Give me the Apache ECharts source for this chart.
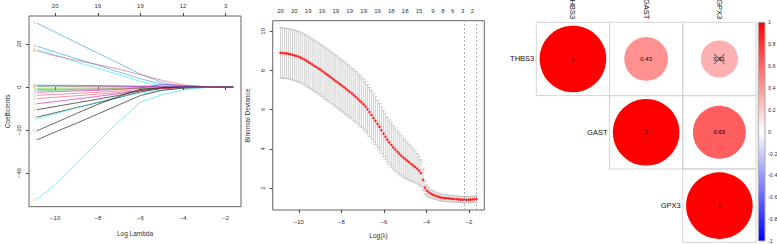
<!DOCTYPE html>
<html lang="en">
<head>
<meta charset="utf-8"/>
<title>LASSO</title>
<script src="https://cdn.jsdelivr.net/npm/echarts@6/dist/echarts.min.js"></script>
<style>
    html, body { margin: 0; padding: 0; background: #fff; }
    #main { width: 777px; height: 244px; }
</style>
</head>
<body>
<div id="main"></div>
<script>
    // ---- panel 1: coefficient paths ----
    var pathLambda = [-10.86, -10, -9, -8, -7, -6, -5, -4, -3, -2, -1.65];
    var v1 = [-13.9, -11.9, -9.5, -7.2, -4.8, -2.2, -0.6, -0.1, 0, 0, 0];
    var v2 = [-1.2, -1.1, -1.0, -0.8, -0.6, -0.4, -0.2, 0, 0, 0, 0];
    var v3 = [-0.6, -0.55, -0.5, -0.45, -0.4, -0.3, -0.1, 0.2, 0.1, 0, 0];
    var v4 = [0.9, 0.85, 0.8, 0.7, 0.6, 0.5, 0.4, 0.3, 0.2, 0.1, 0.05];
    var v5 = [-14.8, -12.4, -9.6, -7.0, -4.6, -2.8, -1.4, -0.4, -0.1, 0, 0];
    var v6 = [-7.7, -6.7, -5.5, -4.3, -3.0, -1.6, -0.6, -0.1, 0, 0, 0];
    var v7 = [-24.5, -20.8, -16.8, -12.5, -8.2, -3.9, -1.5, -0.5, -0.1, 0, 0];
    var v8 = [-3.8, -3.4, -2.9, -2.4, -1.8, -1.2, -0.6, -0.2, 0, 0, 0];
    var v9 = [-1.7, -1.5, -1.3, -1.1, -0.9, -0.6, -0.3, -0.1, 0, 0, 0];
    var v10 = [29.7, 25.5, 20.6, 15.8, 11.0, 6.0, 2.2, 0.1, 0, 0, 0];
    var v11 = [17.5, 15.0, 11.7, 8.7, 5.8, 2.6, 0.5, 0, 0, 0, 0];
    var v12 = [-2.4, -2.1, -1.8, -1.5, -1.1, -0.3, 1.2, 0.8, 0.2, 0, 0];
    var v13 = [-20.3, -16.6, -12.2, -8.0, -4.3, -1.0, -0.3, -0.1, 0, 0, 0];
    var v14 = [16.8, 14.5, 12.4, 10.5, 8.3, 5.8, 3.2, 1.0, 0.3, 0, 0];
    var v15 = [0.2, 0.2, 0.2, 0.15, 0.1, 0.1, 0.2, 0.3, 0.2, 0.1, 0];
    var v16 = [19.0, 16.3, 13.2, 10.2, 7.0, 3.9, 1.3, 0.3, 0.1, 0, 0];
    var v17 = [-52.2, -45.2, -35.3, -25.5, -15.9, -7.0, -3.6, -1.3, -0.2, 0, 0];
    var v18 = [0.6, 0.6, 0.5, 0.5, 0.4, 0.3, 0.2, 0.3, 0.2, 0.05, 0];
    var v19 = [-10.5, -9.0, -7.3, -5.6, -3.8, -1.7, -0.4, 0, 0, 0, 0];
    var v20 = [-5.3, -4.7, -4.0, -3.3, -2.5, -1.6, -0.7, -0.2, 0, 0, 0];
    var pathVars = [v1, v2, v3, v4, v5, v6, v7, v8, v9, v10, v11, v12, v13, v14, v15, v16, v17, v18, v19, v20];
    var rPalette = ['#000000', '#DF536B', '#61D04F', '#2297E6', '#28E2E5', '#CD0BBC'];
    var pathTicks = [-10, -8, -6, -4, -2];
    var pathTopLabels = ['20', '19', '19', '12', '3'];

    // ---- panel 2: cross validation ----
    var logLambda = [
        -10.86, -10.77, -10.67, -10.58, -10.49, -10.40, -10.30, -10.21, -10.12, -10.02,
        -9.93, -9.84, -9.74, -9.65, -9.56, -9.47, -9.37, -9.28, -9.19, -9.09,
        -9.00, -8.91, -8.81, -8.72, -8.63, -8.54, -8.44, -8.35, -8.26, -8.16,
        -8.07, -7.98, -7.88, -7.79, -7.70, -7.61, -7.51, -7.42, -7.33, -7.23,
        -7.14, -7.05, -6.95, -6.86, -6.77, -6.68, -6.58, -6.49, -6.40, -6.30,
        -6.21, -6.12, -6.02, -5.93, -5.84, -5.75, -5.65, -5.56, -5.47, -5.37,
        -5.28, -5.19, -5.09, -5.00, -4.91, -4.82, -4.72, -4.63, -4.54, -4.44,
        -4.35, -4.26, -4.16, -4.07, -3.98, -3.89, -3.79, -3.70, -3.61, -3.51,
        -3.42, -3.33, -3.23, -3.14, -3.05, -2.96, -2.86, -2.77, -2.68, -2.58,
        -2.49, -2.40, -2.30, -2.21, -2.12, -2.02, -1.93, -1.84, -1.74, -1.65];
    var cvMean = [
        8.90, 8.89, 8.88, 8.87, 8.85, 8.83, 8.80, 8.77, 8.74, 8.71,
        8.67, 8.62, 8.56, 8.50, 8.44, 8.37, 8.31, 8.24, 8.18, 8.11,
        8.05, 7.98, 7.90, 7.83, 7.76, 7.68, 7.61, 7.53, 7.45, 7.38,
        7.30, 7.23, 7.15, 7.07, 6.99, 6.91, 6.83, 6.74, 6.65, 6.56,
        6.46, 6.37, 6.27, 6.15, 6.02, 5.88, 5.73, 5.58, 5.43, 5.27,
        5.12, 4.95, 4.78, 4.62, 4.47, 4.33, 4.20, 4.08, 3.97, 3.86,
        3.76, 3.66, 3.56, 3.48, 3.40, 3.32, 3.24, 3.16, 3.08, 2.99,
        2.89, 2.76, 2.42, 2.02, 1.87, 1.78, 1.71, 1.66, 1.62, 1.58,
        1.55, 1.52, 1.50, 1.49, 1.48, 1.47, 1.46, 1.45, 1.44, 1.43,
        1.42, 1.41, 1.41, 1.40, 1.40, 1.41, 1.41, 1.42, 1.43, 1.43];
    var cvSd = [
        1.28, 1.28, 1.28, 1.28, 1.28, 1.28, 1.28, 1.29, 1.29, 1.29,
        1.29, 1.29, 1.30, 1.30, 1.30, 1.30, 1.30, 1.30, 1.30, 1.30,
        1.30, 1.30, 1.31, 1.31, 1.31, 1.31, 1.31, 1.31, 1.31, 1.31,
        1.31, 1.31, 1.31, 1.31, 1.31, 1.31, 1.30, 1.30, 1.30, 1.29,
        1.29, 1.28, 1.28, 1.27, 1.26, 1.25, 1.24, 1.23, 1.22, 1.21,
        1.20, 1.19, 1.18, 1.17, 1.16, 1.15, 1.14, 1.12, 1.10, 1.08,
        1.06, 1.04, 1.01, 0.98, 0.95, 0.92, 0.89, 0.85, 0.81, 0.77,
        0.73, 0.68, 0.55, 0.35, 0.28, 0.24, 0.21, 0.20, 0.19, 0.18,
        0.18, 0.17, 0.17, 0.17, 0.17, 0.17, 0.17, 0.16, 0.16, 0.16,
        0.16, 0.16, 0.16, 0.16, 0.16, 0.16, 0.16, 0.16, 0.16, 0.16];
    var cvTopAt = [-10.86, -10.21, -9.56, -8.91, -8.26, -7.61, -6.95, -6.30, -5.65, -5.00, -4.35, -3.70, -3.23, -2.77, -2.30, -1.84];
    var cvTopLabels = ['20', '20', '19', '19', '19', '19', '19', '19', '18', '18', '15', '9', '8', '6', '3', '2'];
    var lambdaMin = -2.21, lambda1se = -1.65;
    var devTicks = [2, 4, 6, 8, 10];

    // ---- panel 3: correlation ----
    var corrVars = ['THBS3', 'GAST', 'GPX3'];
    var corrTHBS3 = [1, 0.43, 0.31];
    var corrGAST = [0.43, 1, 0.63];
    var corrGPX3 = [0.31, 0.63, 1];
    var corrInsig = [[0, 2]];
    var corrColors = ['#0000FF', '#FFFFFF', '#FF0000'];

    var font = 'Liberation Sans, Arial, Helvetica, sans-serif';
    var ink = '#333';

    function minus(v) { return String(v).replace('-', '\u2212'); }
    function nearest(arr, v) {
        var best = 0;
        for (var i = 1; i < arr.length; i++) {
            if (Math.abs(arr[i] - v) < Math.abs(arr[best] - v)) best = i;
        }
        return best;
    }

    var xMin = -11.228, xMax = -1.282;
    var capHalf = (logLambda[logLambda.length - 1] - logLambda[0]) * 0.01;

    var series = [];
    pathVars.forEach(function (v, i) {
        series.push({
            type: 'line',
            xAxisIndex: 0, yAxisIndex: 0,
            data: pathLambda.map(function (x, k) { return [x, v[k]]; }),
            symbol: 'none',
            smooth: false,
            lineStyle: { width: 0.8, color: rPalette[i % 6], opacity: 0.75 },
            silent: true
        });
    });
    series.push({
        type: 'scatter',
        xAxisIndex: 0, yAxisIndex: 0,
        symbolSize: 1,
        itemStyle: { color: 'rgba(0,0,0,0)' },
        data: pathVars.map(function (v, i) { return [pathLambda[0], v[0], String(i + 1)]; }),
        label: {
            show: true, position: 'left', distance: 0.5,
            fontSize: 3, color: '#999', fontFamily: font,
            formatter: function (p) { return p.value[2]; }
        },
        labelLayout: { hideOverlap: false },
        silent: true
    });

    // error bars
    series.push({
        type: 'custom',
        xAxisIndex: 2, yAxisIndex: 1,
        data: logLambda.map(function (x, k) { return [x, cvMean[k] - cvSd[k], cvMean[k] + cvSd[k]]; }),
        encode: { x: 0, y: [1, 2] },
        renderItem: function (params, api) {
            var x = api.value(0), lo = api.value(1), hi = api.value(2);
            var top = api.coord([x, hi]), bot = api.coord([x, lo]);
            var l = api.coord([x - capHalf, hi])[0], r = api.coord([x + capHalf, hi])[0];
            var st = { stroke: '#bdbdbd', lineWidth: 0.7 };
            return {
                type: 'group', children: [
                    { type: 'line', shape: { x1: top[0], y1: top[1], x2: bot[0], y2: bot[1] }, style: st },
                    { type: 'line', shape: { x1: l, y1: top[1], x2: r, y2: top[1] }, style: st },
                    { type: 'line', shape: { x1: l, y1: bot[1], x2: r, y2: bot[1] }, style: st }
                ]
            };
        },
        silent: true
    });
    series.push({
        type: 'scatter',
        xAxisIndex: 2, yAxisIndex: 1,
        data: logLambda.map(function (x, k) { return [x, cvMean[k]]; }),
        symbolSize: 2.6,
        itemStyle: { color: '#FF0000' },
        markLine: {
            silent: true, symbol: 'none',
            label: { show: false },
            lineStyle: { type: [2, 2], color: '#b0b0b0', width: 1 },
            data: [{ xAxis: lambdaMin }, { xAxis: lambda1se }]
        },
        silent: true
    });

    // correlation cells (upper triangle)
    var corrRows = [corrTHBS3, corrGAST, corrGPX3];
    var corrData = [];
    corrRows.forEach(function (row, i) {
        row.forEach(function (r, j) {
            if (j < i) return;
            var ins = corrInsig.some(function (p) { return p[0] === i && p[1] === j; }) ? 1 : 0;
            corrData.push([j, i, r, ins]);
        });
    });
    var corrIndex = series.length;
    series.push({
        type: 'custom',
        xAxisIndex: 4, yAxisIndex: 2,
        data: corrData,
        encode: { x: 0, y: 1 },
        renderItem: function (params, api) {
            var col = api.value(0), row = api.value(1), r = api.value(2), ins = api.value(3);
            var c = api.coord([col, row]);
            var s = api.size([1, 1]);
            var w = s[0], h = s[1];
            var kids = [
                { type: 'rect', shape: { x: c[0] - w / 2, y: c[1] - h / 2, width: w, height: h },
                  style: { fill: 'none', stroke: '#d4d4d4', lineWidth: 1 } },
                { type: 'circle', shape: { cx: c[0], cy: c[1], r: 0.455 * w * Math.sqrt(Math.abs(r)) },
                  style: { fill: api.visual('color') } },
                { type: 'text', style: { text: r === 1 ? '1' : r.toFixed(2), x: c[0], y: c[1],
                  align: 'center', verticalAlign: 'middle', fontSize: 6, fontFamily: font, fill: '#000' } }
            ];
            if (col === row) {
                kids.push({ type: 'text', style: { text: corrVars[row], x: c[0] - w / 2 - 2, y: c[1],
                    align: 'right', verticalAlign: 'middle', fontSize: 7.5, fontFamily: font, fill: '#111' } });
            }
            if (ins) {
                var cs = { stroke: '#222', lineWidth: 0.8 };
                kids.push({ type: 'line', shape: { x1: c[0] - 5.3, y1: c[1] - 5, x2: c[0] + 5.3, y2: c[1] + 5 }, style: cs });
                kids.push({ type: 'line', shape: { x1: c[0] - 5.3, y1: c[1] + 5, x2: c[0] + 5.3, y2: c[1] - 5 }, style: cs });
            }
            return { type: 'group', children: kids };
        },
        silent: true
    });

    // colour legend bar
    series.push({
        type: 'custom',
        xAxisIndex: 5, yAxisIndex: 3,
        data: [[0, 1, -1, 1]],
        encode: { x: [0, 1], y: [2, 3] },
        renderItem: function (params, api) {
            var p0 = api.coord([api.value(0), api.value(3)]);
            var p1 = api.coord([api.value(1), api.value(2)]);
            return {
                type: 'rect',
                shape: { x: p0[0], y: p0[1], width: p1[0] - p0[0], height: p1[1] - p0[1] },
                style: {
                    fill: new echarts.graphic.LinearGradient(0, 0, 0, 1, [
                        { offset: 0, color: corrColors[2] },
                        { offset: 0.5, color: corrColors[1] },
                        { offset: 1, color: corrColors[0] }
                    ]),
                    stroke: '#aaa', lineWidth: 1
                }
            };
        },
        silent: true
    });

    function tickStyle() { return { color: '#444', width: 1 }; }
    var labelStyle = { fontSize: 6, color: ink, fontFamily: font };

    var option = {
        animation: false,
        backgroundColor: '#fff',
        textStyle: { fontFamily: font },
        grid: [
            { left: 29, top: 16, width: 212, height: 190.7, show: true, borderColor: '#666', borderWidth: 1, outerBoundsMode: 'none' },
            { left: 272.7, top: 20.7, width: 211.6, height: 189.3, show: true, borderColor: '#666', borderWidth: 1, outerBoundsMode: 'none' },
            { left: 536.3, top: 22.3, width: 219.7, height: 220, outerBoundsMode: 'none' },
            { left: 758.3, top: 22.3, width: 6.7, height: 218.7, outerBoundsMode: 'none' }
        ],
        xAxis: [
            { gridIndex: 0, type: 'value', min: xMin, max: xMax, position: 'bottom',
              axisLine: { show: false }, splitLine: { show: false },
              axisTick: { show: true, length: 3, lineStyle: tickStyle(), customValues: pathTicks },
              axisLabel: Object.assign({ customValues: pathTicks, margin: 8, formatter: minus }, labelStyle),
              name: 'Log Lambda', nameLocation: 'middle', nameGap: 23,
              nameTextStyle: { fontSize: 6.5, color: ink, fontFamily: font } },
            { gridIndex: 0, type: 'value', min: xMin, max: xMax, position: 'top',
              axisLine: { show: false }, splitLine: { show: false },
              axisTick: { show: true, length: 3, lineStyle: tickStyle(), customValues: pathTicks },
              axisLabel: Object.assign({ customValues: pathTicks, margin: 7,
                  formatter: function (v) { return pathTopLabels[nearest(pathTicks, v)]; } }, labelStyle) },
            { gridIndex: 1, type: 'value', min: xMin, max: xMax, position: 'bottom',
              axisLine: { show: false }, splitLine: { show: false },
              axisTick: { show: true, length: 3, lineStyle: tickStyle(), customValues: pathTicks },
              axisLabel: Object.assign({ customValues: pathTicks, margin: 8.5, formatter: minus }, labelStyle),
              name: 'Log(\u03bb)', nameLocation: 'middle', nameGap: 21.5,
              nameTextStyle: { fontSize: 6.5, color: ink, fontFamily: font } },
            { gridIndex: 1, type: 'value', min: xMin, max: xMax, position: 'top',
              axisLine: { show: false }, splitLine: { show: false },
              axisTick: { show: false },
              axisLabel: Object.assign({ customValues: cvTopAt, margin: 7,
                  formatter: function (v) { return cvTopLabels[nearest(cvTopAt, v)]; } }, labelStyle) },
            { gridIndex: 2, type: 'category', data: corrVars, position: 'top',
              axisLine: { show: false }, axisTick: { show: false }, splitLine: { show: false },
              axisLabel: { rotate: 90, fontSize: 7.5, color: '#111', fontFamily: font, margin: 3 } },
            { gridIndex: 3, type: 'value', min: 0, max: 1, show: false }
        ],
        yAxis: [
            { gridIndex: 0, type: 'value', min: -55.5, max: 33,
              axisLine: { show: false }, splitLine: { show: false },
              axisTick: { show: true, length: 3, lineStyle: tickStyle(), customValues: [-40, -20, 0, 20] },
              axisLabel: Object.assign({ customValues: [-40, -20, 0, 20], rotate: 90, margin: 7, formatter: minus }, labelStyle),
              name: 'Coefficients', nameLocation: 'middle', nameGap: 18.5, nameRotate: 90,
              nameTextStyle: { fontSize: 6.5, color: ink, fontFamily: font } },
            { gridIndex: 1, type: 'value', min: 0.88, max: 10.54,
              axisLine: { show: false }, splitLine: { show: false },
              axisTick: { show: true, length: 3, lineStyle: tickStyle(), customValues: devTicks },
              axisLabel: Object.assign({ customValues: devTicks, rotate: 90, margin: 7 }, labelStyle),
              name: 'Binomial Deviance', nameLocation: 'middle', nameGap: 22, nameRotate: 90,
              nameTextStyle: { fontSize: 6.5, color: ink, fontFamily: font } },
            { gridIndex: 2, type: 'category', data: corrVars, inverse: true, show: false },
            { gridIndex: 3, type: 'value', min: -1, max: 1, interval: 0.2, position: 'right',
              axisLine: { show: false }, splitLine: { show: false },
              axisTick: { show: false },
              axisLabel: Object.assign({}, labelStyle, { fontSize: 5.5, margin: 3,
                  formatter: function (v) { return String(Math.round(v * 10) / 10); } }) }
        ],
        visualMap: [{
            show: false, type: 'continuous', seriesIndex: corrIndex, dimension: 2,
            min: -1, max: 1, inRange: { color: corrColors }
        }],
        series: series
    };

    var chart = echarts.init(document.getElementById('main'), null, { renderer: 'svg' });
    chart.setOption(option);
</script>
</body>
</html>
